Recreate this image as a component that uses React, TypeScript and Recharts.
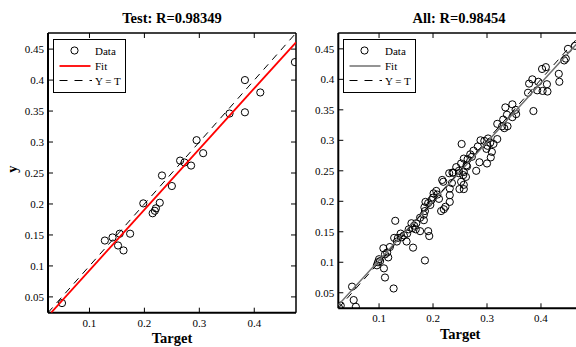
import React from 'react';
import { ScatterChart, Scatter, XAxis, YAxis } from 'recharts';

const serif = '"Liberation Serif", "Times New Roman", serif';

const axisMin = 0.0245;
const axisMax = 0.476;
const xTicks = [0.1, 0.2, 0.3, 0.4];
const yTicks = [0.05, 0.1, 0.15, 0.2, 0.25, 0.3, 0.35, 0.4, 0.45];

// test set: target vs output
const testTarget = [0.050, 0.128, 0.142, 0.152, 0.155, 0.162, 0.174, 0.198, 0.215, 0.219, 0.221, 0.228,
  0.232, 0.250, 0.265, 0.273, 0.285, 0.295, 0.307, 0.355, 0.383, 0.383, 0.411, 0.474];
const testOutput = [0.040, 0.141, 0.146, 0.133, 0.152, 0.125, 0.152, 0.201, 0.185, 0.189, 0.193, 0.202,
  0.246, 0.229, 0.270, 0.267, 0.262, 0.303, 0.282, 0.346, 0.400, 0.348, 0.380, 0.429];

// all data: target vs output
const allTarget = [
  0.463, 0.450, 0.443, 0.446, 0.402, 0.409, 0.395, 0.384, 0.378, 0.376, 0.393, 0.403, 0.411, 0.412, 0.433, 0.434,
  0.386, 0.334, 0.347, 0.353, 0.354, 0.347, 0.337, 0.330, 0.319, 0.328, 0.338, 0.332,
  0.302, 0.295, 0.288, 0.306, 0.301, 0.312, 0.319, 0.299, 0.309, 0.307, 0.300, 0.283, 0.275, 0.253,
  0.269, 0.264, 0.272, 0.257, 0.262, 0.286, 0.280, 0.252, 0.243, 0.248, 0.236, 0.230, 0.257, 0.263, 0.217,
  0.238, 0.248, 0.256, 0.261, 0.252, 0.257, 0.249, 0.257, 0.235, 0.231, 0.219, 0.231, 0.231, 0.223, 0.220, 0.215,
  0.206, 0.208, 0.201, 0.200, 0.211, 0.197, 0.191, 0.195, 0.186, 0.184, 0.185, 0.183, 0.183, 0.176,
  0.169, 0.165, 0.160, 0.162, 0.155, 0.168, 0.176, 0.152, 0.146, 0.140, 0.142, 0.135, 0.128, 0.133, 0.151,
  0.130, 0.163, 0.191, 0.193, 0.185, 0.120, 0.108, 0.115, 0.111, 0.117, 0.100, 0.098, 0.096, 0.102,
  0.109, 0.111, 0.127, 0.050, 0.053, 0.057, 0.026, 0.029
];
const allOutput = [
  0.455, 0.450, 0.431, 0.434, 0.417, 0.420, 0.396, 0.400, 0.393, 0.378, 0.382, 0.381, 0.392, 0.380, 0.409, 0.396,
  0.348, 0.354, 0.359, 0.350, 0.343, 0.338, 0.342, 0.334, 0.327, 0.323, 0.323, 0.320,
  0.303, 0.299, 0.300, 0.296, 0.291, 0.294, 0.302, 0.286, 0.281, 0.272, 0.262, 0.290, 0.283, 0.294,
  0.277, 0.269, 0.273, 0.270, 0.259, 0.264, 0.250, 0.262, 0.256, 0.250, 0.247, 0.246, 0.248, 0.257, 0.235,
  0.247, 0.246, 0.243, 0.240, 0.232, 0.227, 0.220, 0.220, 0.230, 0.221, 0.232, 0.210, 0.199, 0.191, 0.187, 0.184,
  0.217, 0.211, 0.213, 0.206, 0.204, 0.202, 0.197, 0.194, 0.199, 0.190, 0.184, 0.178, 0.169, 0.173,
  0.164, 0.160, 0.164, 0.156, 0.154, 0.154, 0.151, 0.147, 0.144, 0.147, 0.141, 0.140, 0.140, 0.134, 0.134,
  0.168, 0.124, 0.151, 0.143, 0.103, 0.125, 0.123, 0.116, 0.113, 0.108, 0.105, 0.100, 0.095, 0.102,
  0.090, 0.075, 0.057, 0.060, 0.038, 0.027, 0.025, 0.029
];

// regression lines (end points)
const testFitT = [0.0304, 0.476];
const testFitY = [0.0247, 0.461];
const allFitT = [0.0245, 0.476];
const allFitY = [0.0298, 0.4677];
const identityT = [axisMin, axisMax];

const toPoints = (xs: number[], ys: number[]) => xs.map((x, i) => ({ x, y: ys[i] }));

const Ring = (p: any) =>
  p.cx == null ? <g /> : <circle cx={p.cx} cy={p.cy} r={3.6} fill="none" stroke="#000" strokeWidth={1} />;
const NoMark = () => <g />;
const fmt = (v: number) => String(v);

const LegendBox = ({ left, fitColor, fitWidth }: any) => (
  <div style={{
    position: 'absolute', left, top: 39, width: 73, height: 54, boxSizing: 'border-box',
    border: '1.5px solid #000', background: '#fff'
  }}>
    <svg width={70} height={51} style={{ display: 'block', fontFamily: serif, fontSize: 11 }}>
      <circle cx={20.5} cy={10.5} r={3.6} fill="none" stroke="#000" />
      <text x={41} y={14.5}>Data</text>
      <line x1={5.5} x2={36.5} y1={26} y2={26} stroke={fitColor} strokeWidth={fitWidth} />
      <text x={41} y={30}>Fit</text>
      <line x1={5.5} x2={38} y1={40.5} y2={40.5} stroke="#000" strokeDasharray="8 7" />
      <text x={41} y={44.5}>Y = T</text>
    </svg>
  </div>
);

const Title = ({ center, text }: any) => (
  <div style={{
    position: 'absolute', left: center - 100, top: 10, width: 200, textAlign: 'center',
    fontFamily: serif, fontSize: 14.5, fontWeight: 'bold', lineHeight: '16px', color: '#000'
  }}>{text}</div>
);

function Panel({ pts, fit, fitColor, fitWidth, margin, yAxisWidth, yLabel }: any) {
  return (
    <ScatterChart width={300} height={347} margin={margin}>
      <XAxis
        type="number" dataKey="x" domain={[axisMin, axisMax]} ticks={xTicks} allowDataOverflow
        height={20} tickSize={-5} tickMargin={11} tickFormatter={fmt}
        axisLine={{ stroke: '#000', strokeWidth: 2 }} tickLine={{ stroke: '#000' }}
        tick={{ fill: '#000', fontSize: 11, fontFamily: serif }}
        label={{ value: 'Target', position: 'bottom', offset: 0.5, fill: '#000', fontSize: 14.5, fontWeight: 'bold', fontFamily: serif }}
      />
      <XAxis
        xAxisId="top" orientation="top" type="number" dataKey="x" domain={[axisMin, axisMax]} ticks={xTicks}
        allowDataOverflow height={1} tickSize={-5} tickFormatter={() => ''}
        axisLine={{ stroke: '#000', strokeWidth: 1.5 }} tickLine={{ stroke: '#000' }}
      />
      <YAxis
        type="number" dataKey="y" domain={[axisMin, axisMax]} ticks={yTicks} allowDataOverflow
        width={yAxisWidth} tickSize={-5} tickMargin={9} tickFormatter={fmt}
        axisLine={{ stroke: '#000', strokeWidth: 2 }} tickLine={{ stroke: '#000' }}
        tick={{ fill: '#000', fontSize: 11, fontFamily: serif }}
        label={yLabel ? { value: yLabel, angle: -90, position: 'insideLeft', offset: 12, fill: '#000', fontSize: 14.5, fontWeight: 'bold', fontFamily: serif } : undefined}
      />
      <YAxis
        yAxisId="right" orientation="right" type="number" dataKey="y" domain={[axisMin, axisMax]} ticks={yTicks}
        allowDataOverflow width={1} tickSize={-5} tickFormatter={() => ''}
        axisLine={{ stroke: '#000', strokeWidth: 1.5 }} tickLine={{ stroke: '#000' }}
      />
      <Scatter data={pts} shape={Ring} isAnimationActive={false} />
      <Scatter data={fit} shape={NoMark} line={{ stroke: fitColor, strokeWidth: fitWidth }} isAnimationActive={false} />
      <Scatter xAxisId="top" yAxisId="right" data={toPoints(identityT, identityT)} shape={NoMark}
        line={{ stroke: '#000', strokeWidth: 1, strokeDasharray: '7 6' }} isAnimationActive={false} />
    </ScatterChart>
  );
}

export default function App() {
  return (
    <div style={{
      position: 'absolute', left: 0, top: 0, width: 576, height: 347, overflow: 'hidden',
      background: '#fff', fontFamily: serif
    }}>
      <div style={{ position: 'absolute', left: 0, top: 0 }}>
        <Panel
          pts={toPoints(testTarget, testOutput)} fit={toPoints(testFitT, testFitY)}
          fitColor="#ff0000" fitWidth={1.8} yAxisWidth={48} yLabel="y"
          margin={{ top: 32, right: 3, bottom: 14.3, left: 0 }}
        />
      </div>
      <div style={{ position: 'absolute', left: 290, top: 0 }}>
        <Panel
          pts={toPoints(allTarget, allOutput)} fit={toPoints(allFitT, allFitY)}
          fitColor="#707070" fitWidth={1.5} yAxisWidth={48.3}
          margin={{ top: 32, right: 7, bottom: 18.7, left: 0 }}
        />
      </div>
      <Title center={172} text="Test: R=0.98349" />
      <Title center={459} text="All: R=0.98454" />
      <LegendBox left={53} fitColor="#ff0000" fitWidth={1.8} />
      <LegendBox left={342.7} fitColor="#707070" fitWidth={1.5} />
    </div>
  );
}
